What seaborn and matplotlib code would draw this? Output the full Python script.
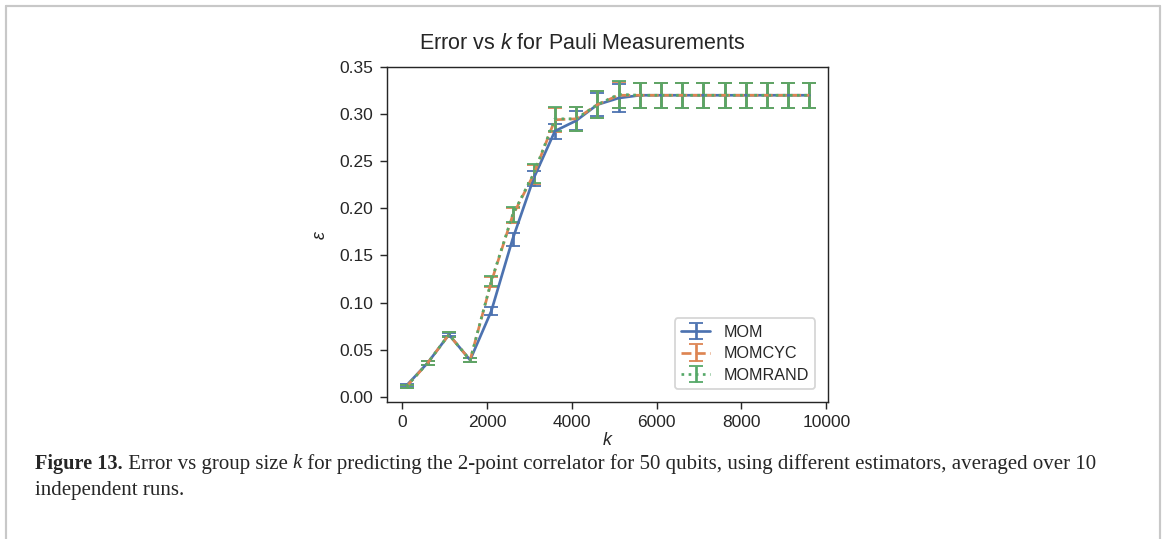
import numpy as np
import pandas as pd
import seaborn as sns
import matplotlib.pyplot as plt
from matplotlib.lines import Line2D

# group sizes k
k_values = [100, 600, 1100, 1600, 2100, 2600, 3100, 3600, 4100, 4600,
            5100, 5600, 6100, 6600, 7100, 7600, 8100, 8600, 9100, 9600]

mom_err = [0.012, 0.036, 0.066, 0.039, 0.091, 0.167, 0.232, 0.282, 0.293, 0.310,
           0.317, 0.320, 0.320, 0.320, 0.320, 0.320, 0.320, 0.320, 0.320, 0.320]
mom_std = [0.002, 0.002, 0.002, 0.002, 0.004, 0.007, 0.008, 0.008, 0.010, 0.012,
           0.015, 0.0135, 0.0135, 0.0135, 0.0135, 0.0135, 0.0135, 0.0135, 0.0135, 0.0135]

momcyc_err = [0.011, 0.036, 0.066, 0.039, 0.122, 0.192, 0.236, 0.294, 0.295, 0.310,
              0.320, 0.320, 0.320, 0.320, 0.320, 0.320, 0.320, 0.320, 0.320, 0.320]
momcyc_std = [0.002, 0.002, 0.003, 0.002, 0.005, 0.008, 0.010, 0.013, 0.013, 0.014,
              0.014, 0.0135, 0.0135, 0.0135, 0.0135, 0.0135, 0.0135, 0.0135, 0.0135, 0.0135]

momrand_err = [0.011, 0.036, 0.066, 0.039, 0.123, 0.193, 0.237, 0.295, 0.295, 0.310,
               0.321, 0.320, 0.320, 0.320, 0.320, 0.320, 0.320, 0.320, 0.320, 0.320]
momrand_std = [0.002, 0.002, 0.003, 0.002, 0.005, 0.008, 0.010, 0.013, 0.013, 0.014,
               0.014, 0.0135, 0.0135, 0.0135, 0.0135, 0.0135, 0.0135, 0.0135, 0.0135, 0.0135]

estimators = ['MOM', 'MOMCYC', 'MOMRAND']
linestyles = ['-', '--', ':']

caption_bold = 'Figure 13.'
caption_line1 = [(' Error vs group size ', 'normal'), ('k', 'italic'),
                 (' for predicting the 2-point correlator for 50 qubits, using different estimators, averaged over 10', 'normal')]
caption_line2 = 'independent runs.'

if __name__ == "__main__":
    sns.set_style('ticks')
    plt.rcParams['font.family'] = ['Liberation Sans', 'DejaVu Sans']
    plt.rcParams['mathtext.fontset'] = 'custom'
    plt.rcParams['mathtext.it'] = 'Liberation Sans:italic'
    plt.rcParams['mathtext.rm'] = 'Liberation Sans'
    plt.rcParams['xtick.major.size'] = 4
    plt.rcParams['ytick.major.size'] = 4
    plt.rcParams['xtick.labelsize'] = 9.7
    plt.rcParams['ytick.labelsize'] = 9.7

    df = pd.DataFrame({'k': k_values,
                       'MOM': mom_err, 'MOM_std': mom_std,
                       'MOMCYC': momcyc_err, 'MOMCYC_std': momcyc_std,
                       'MOMRAND': momrand_err, 'MOMRAND_std': momrand_std})

    fig = plt.figure(figsize=(1165 / 129, 539 / 129), dpi=129)
    ax = fig.add_axes([0.3322, 0.2542, 0.3785, 0.6215])
    colors = sns.color_palette('deep', 3)

    for name, ls, c in zip(estimators, linestyles, colors):
        ax.errorbar(df['k'], df[name], yerr=df[name + '_std'], color=c,
                    linestyle=ls, capsize=4, label=name)

    ax.set_xlim(-360, 10040)
    ax.set_ylim(-0.0055, 0.35)
    ax.set_xticks([0, 2000, 4000, 6000, 8000, 10000])
    ax.set_yticks(np.arange(0, 0.351, 0.05))
    ax.yaxis.set_major_formatter(plt.FormatStrFormatter('%.2f'))
    ax.set_title('Error vs $k$ for Pauli Measurements', pad=10, x=0.442)
    ax.set_xlabel('$k$', labelpad=1)
    ax.set_ylabel(r'$\epsilon$', labelpad=6)
    ax.legend(loc='lower right', fontsize=9, handlelength=1.8,
              borderaxespad=0.8, labelspacing=0.4)

    # caption under the chart
    fig.canvas.draw()
    renderer = fig.canvas.get_renderer()
    x0 = 35 / 1165
    y1 = 1 - 464 / 539
    t = fig.text(x0, y1, caption_bold, fontsize=11.3, family='Liberation Serif',
                 weight='bold', va='center')
    x = t.get_window_extent(renderer).x1 / fig.bbox.width
    for txt, style in caption_line1:
        t = fig.text(x, y1, txt, fontsize=11.65, family='Liberation Serif',
                     style=style, va='center')
        x = t.get_window_extent(renderer).x1 / fig.bbox.width
    fig.text(x0, 1 - 491 / 539, caption_line2, fontsize=11.65,
             family='Liberation Serif', va='center')

    # grey frame around the figure panel
    for xs, ys in [([6 / 1165, 6 / 1165], [0, 1 - 6 / 539]),
                   ([6 / 1165, 1160 / 1165], [1 - 6 / 539, 1 - 6 / 539]),
                   ([1160 / 1165, 1160 / 1165], [0, 1 - 6 / 539])]:
        fig.add_artist(Line2D(xs, ys, transform=fig.transFigure, color='#c8c8c8', lw=1.2))

    fig.savefig('out.png', dpi=129)
    plt.close()
